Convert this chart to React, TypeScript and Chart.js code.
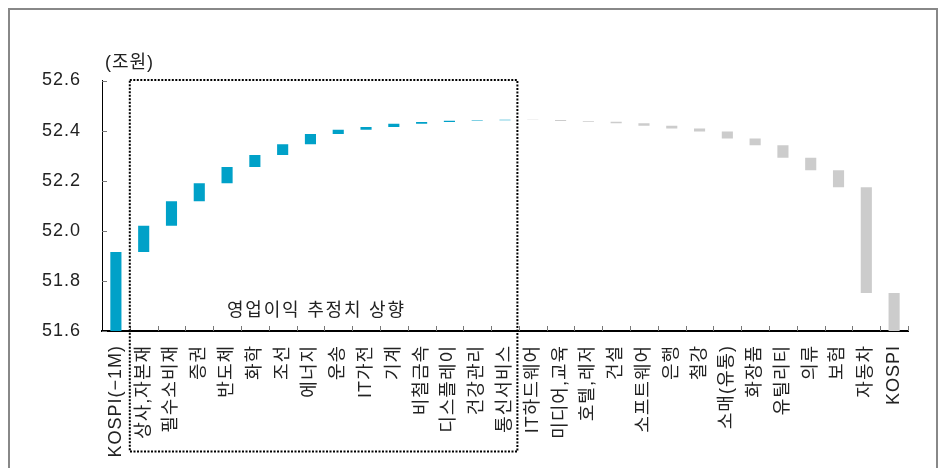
import { useEffect, useRef } from "react";
import { Chart, registerables } from "chart.js";

Chart.register(...registerables);

const categories = [
  "KOSPI(−1M)",
  "상사,자본재",
  "필수소비재",
  "증권",
  "반도체",
  "화학",
  "조선",
  "에너지",
  "운송",
  "IT가전",
  "기계",
  "비철금속",
  "디스플레이",
  "건강관리",
  "통신서비스",
  "IT하드웨어",
  "미디어,교육",
  "호텔,레저",
  "건설",
  "소프트웨어",
  "은행",
  "철강",
  "소매(유통)",
  "화장품",
  "유틸리티",
  "의류",
  "보험",
  "자동차",
  "KOSPI",
];

const startValue = 51.915;
const sectorChanges = [
  0.105, 0.098, 0.072, 0.065, 0.048, 0.043, 0.04, 0.017, 0.011, 0.013, 0.007,
  0.005, 0.002, 0.002, -0.001, -0.004, -0.003, -0.006, -0.01, -0.011, -0.012,
  -0.028, -0.026, -0.05, -0.05, -0.068, -0.422,
];
const endValue = 51.752;

const yMin = 51.6;
const yMax = 52.6;
const yStep = 0.2;
const yTicks = [51.6, 51.8, 52.0, 52.2, 52.4, 52.6];

const unitLabel = "(조원)";
const boxLabel = "영업이익 추정치 상향";

const BLUE = "#00A1C8";
const GRAY = "#CCCCCC";
const FONT = '"Liberation Sans", "Noto Sans CJK KR", sans-serif';

function buildBars() {
  const bars: [number, number][] = [[yMin, startValue]];
  const colors: string[] = [BLUE];
  let level = startValue;
  for (const c of sectorChanges) {
    const next = level + c;
    bars.push([Math.min(level, next), Math.max(level, next)]);
    colors.push(c >= 0 ? BLUE : GRAY);
    level = next;
  }
  bars.push([yMin, endValue]);
  colors.push(GRAY);
  return { bars, colors };
}

const positiveCount = sectorChanges.filter((c) => c > 0).length;

const spacing = {
  id: "spacing",
  beforeDraw(chart: any) {
    (chart.ctx as any).letterSpacing = "1px";
  },
};

const overlay = {
  id: "overlay",
  afterDraw(chart: any) {
    const ctx = chart.ctx as CanvasRenderingContext2D;
    const xs = chart.scales.x;
    const ys = chart.scales.y;
    const n = categories.length;
    const w = (xs.right - xs.left) / n;
    ctx.save();

    // inward y ticks
    ctx.strokeStyle = "#777";
    ctx.lineWidth = 1;
    for (const v of yTicks) {
      const py = Math.round(ys.getPixelForValue(v)) + 0.5;
      ctx.beginPath();
      ctx.moveTo(xs.left, py);
      ctx.lineTo(xs.left + 5, py);
      ctx.stroke();
    }
    // inward x ticks at category boundaries
    for (let i = 1; i <= n; i++) {
      const px = Math.round(xs.left + i * w) + 0.5;
      ctx.beginPath();
      ctx.moveTo(px, ys.bottom);
      ctx.lineTo(px, ys.bottom - 5);
      ctx.stroke();
    }

    // dotted box around upgraded sectors
    ctx.setLineDash([2, 1.5]);
    ctx.lineWidth = 2;
    ctx.strokeStyle = "#000";
    const bx0 = xs.left + w;
    const bx1 = xs.left + (positiveCount + 1) * w - 1.5;
    const by0 = ys.getPixelForValue(yMax) - 0.5;
    const by1 = 451.5;
    ctx.strokeRect(bx0, by0, bx1 - bx0, by1 - by0);
    ctx.setLineDash([]);

    // texts
    ctx.fillStyle = "#222";
    ctx.font = `18px ${FONT}`;
    ctx.textBaseline = "middle";
    ctx.textAlign = "left";
    (ctx as any).letterSpacing = "1.8px";
    ctx.fillText(boxLabel, 227, 311);
    (ctx as any).letterSpacing = "1px";
    ctx.fillText(unitLabel, 105, 63);

    // outer frame
    ctx.strokeStyle = "#888";
    ctx.lineWidth = 2;
    ctx.strokeRect(9, 9, 928, 480);
    ctx.restore();
  },
};

export default function App() {
  const ref = useRef<HTMLCanvasElement | null>(null);
  useEffect(() => {
    if (!ref.current) return;
    const { bars, colors } = buildBars();
    const chart = new Chart(ref.current, {
      type: "bar",
      data: {
        labels: categories,
        datasets: [
          {
            data: bars as any,
            backgroundColor: colors,
            borderWidth: 0,
            categoryPercentage: 1,
            barPercentage: 0.4,
          },
        ],
      },
      options: {
        animation: false,
        responsive: true,
        maintainAspectRatio: false,
        events: [],
        layout: { padding: { left: 0, top: 80.5, right: 30, bottom: 0 } },
        plugins: { legend: { display: false }, tooltip: { enabled: false } },
        scales: {
          x: {
            offset: true,
            grid: { display: false },
            border: { display: true, color: "#000", width: 2 },
            ticks: {
              autoSkip: false,
              minRotation: 90,
              maxRotation: 90,
              padding: 6,
              color: "#222",
              font: { family: FONT, size: 18 },
            },
            afterFit(scale: any) {
              scale.height = 137;
            },
          },
          y: {
            min: yMin,
            max: yMax,
            grid: { display: false },
            border: { display: true, color: "#000", width: 1 },
            ticks: {
              stepSize: yStep,
              padding: 13,
              color: "#222",
              font: { family: FONT, size: 18 },
              callback: (v: any) => Number(v).toFixed(1),
            },
            afterFit(scale: any) {
              scale.width = 102;
            },
          },
        },
      },
      plugins: [spacing, overlay],
    });
    return () => chart.destroy();
  }, []);
  return (
    <div style={{ position: "fixed", left: 0, top: 0, width: 938, height: 468, background: "#fff" }}>
      <canvas ref={ref} />
    </div>
  );
}
